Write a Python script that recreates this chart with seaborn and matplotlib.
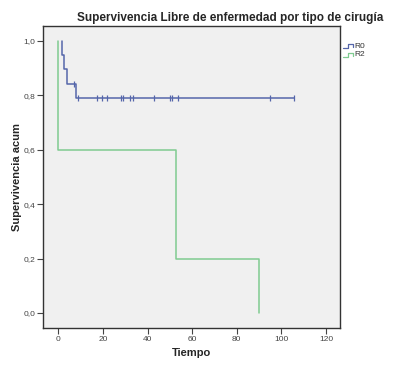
import numpy as np
import pandas as pd
import matplotlib
matplotlib.use("Agg")
import matplotlib.pyplot as plt
import seaborn as sns
from matplotlib.lines import Line2D

sns.set_theme(style="white")
plt.rcParams['font.family'] = ['Liberation Sans', 'DejaVu Sans']

# ---- data ----
groups = ["R0", "R2"]
r0_time = [1.8, 1.8, 2.7, 3.8, 8.0, 105.8]
r0_surv = [1.0, 0.947, 0.895, 0.842, 0.789, 0.789]
r0_cens_time = [7.2, 9.0, 17.3, 19.4, 21.7, 28.1, 28.8, 31.9, 33.6, 43.0, 50.0, 50.8, 53.8, 94.9, 105.8]
r0_cens_surv = [0.842, 0.789, 0.789, 0.789, 0.789, 0.789, 0.789, 0.789, 0.789, 0.789, 0.789, 0.789, 0.789, 0.789, 0.789]
r2_time = [0.0, 0.0, 52.8, 90.0]
r2_surv = [1.0, 0.6, 0.2, 0.0]
xticks = [0, 20, 40, 60, 80, 100, 120]
yticks = [0.0, 0.2, 0.4, 0.6, 0.8, 1.0]
colors = {"R0": "#5566aa", "R2": "#7fcb90"}

df = pd.concat([
    pd.DataFrame({"Tiempo": r0_time, "surv": r0_surv, "grupo": "R0"}),
    pd.DataFrame({"Tiempo": r2_time, "surv": r2_surv, "grupo": "R2"}),
])
cens = pd.DataFrame({"Tiempo": r0_cens_time, "surv": r0_cens_surv})

fig = plt.figure(figsize=(3.95, 3.70), dpi=100)
ax = fig.add_axes([43/395, 1-328/370, (340-43)/395, (328-26)/370])
ax.set_facecolor("#f0f0f0")

for g in groups:
    sub = df[df.grupo == g]
    sns.lineplot(data=sub, x="Tiempo", y="surv", ax=ax, color=colors[g],
                 estimator=None, sort=False, drawstyle="steps-post",
                 linewidth=1.1, legend=False)
sns.scatterplot(data=cens, x="Tiempo", y="surv", ax=ax, marker="|", s=22,
                color=colors["R0"], linewidth=0.9, legend=False)

ax.set_xlim(-6.9, 126.3)
ax.set_ylim(-0.055, 1.054)
ax.set_xticks(xticks)
ax.set_xticklabels([str(v) for v in xticks])
ax.set_yticks(yticks)
ax.set_yticklabels([f"{v:.1f}".replace(".", ",") for v in yticks])
ax.tick_params(axis="both", direction="out", length=4, width=0.8, colors="#444444",
               labelsize=6, pad=1.5, left=True, bottom=True)
for s in ax.spines.values():
    s.set_color("#333333")
    s.set_linewidth(1.0)
ax.set_xlabel("Tiempo", fontsize=8, fontweight="bold", labelpad=4)
ax.set_ylabel("Supervivencia acum", fontsize=8, fontweight="bold", labelpad=1)

fig.text(230.5/395, 1-18/370, "Supervivencia Libre de enfermedad por tipo de cirugía",
         ha="center", va="center", fontsize=8.5, fontweight="bold")

# legend with step icons
for i, g in enumerate(groups):
    y0 = 48 + i*9
    xs = [343, 348, 348, 353, 353]
    ys = [y0, y0, y0-4, y0-4, y0-1]
    fig.add_artist(Line2D([x/395 for x in xs], [1-y/370 for y in ys],
                          transform=fig.transFigure, color=colors[g], linewidth=0.9))
    fig.text(354/395, 1-(y0-2)/370, g, fontsize=6, va="center", ha="left", color="#333333")

fig.savefig("out.png", dpi=100)
